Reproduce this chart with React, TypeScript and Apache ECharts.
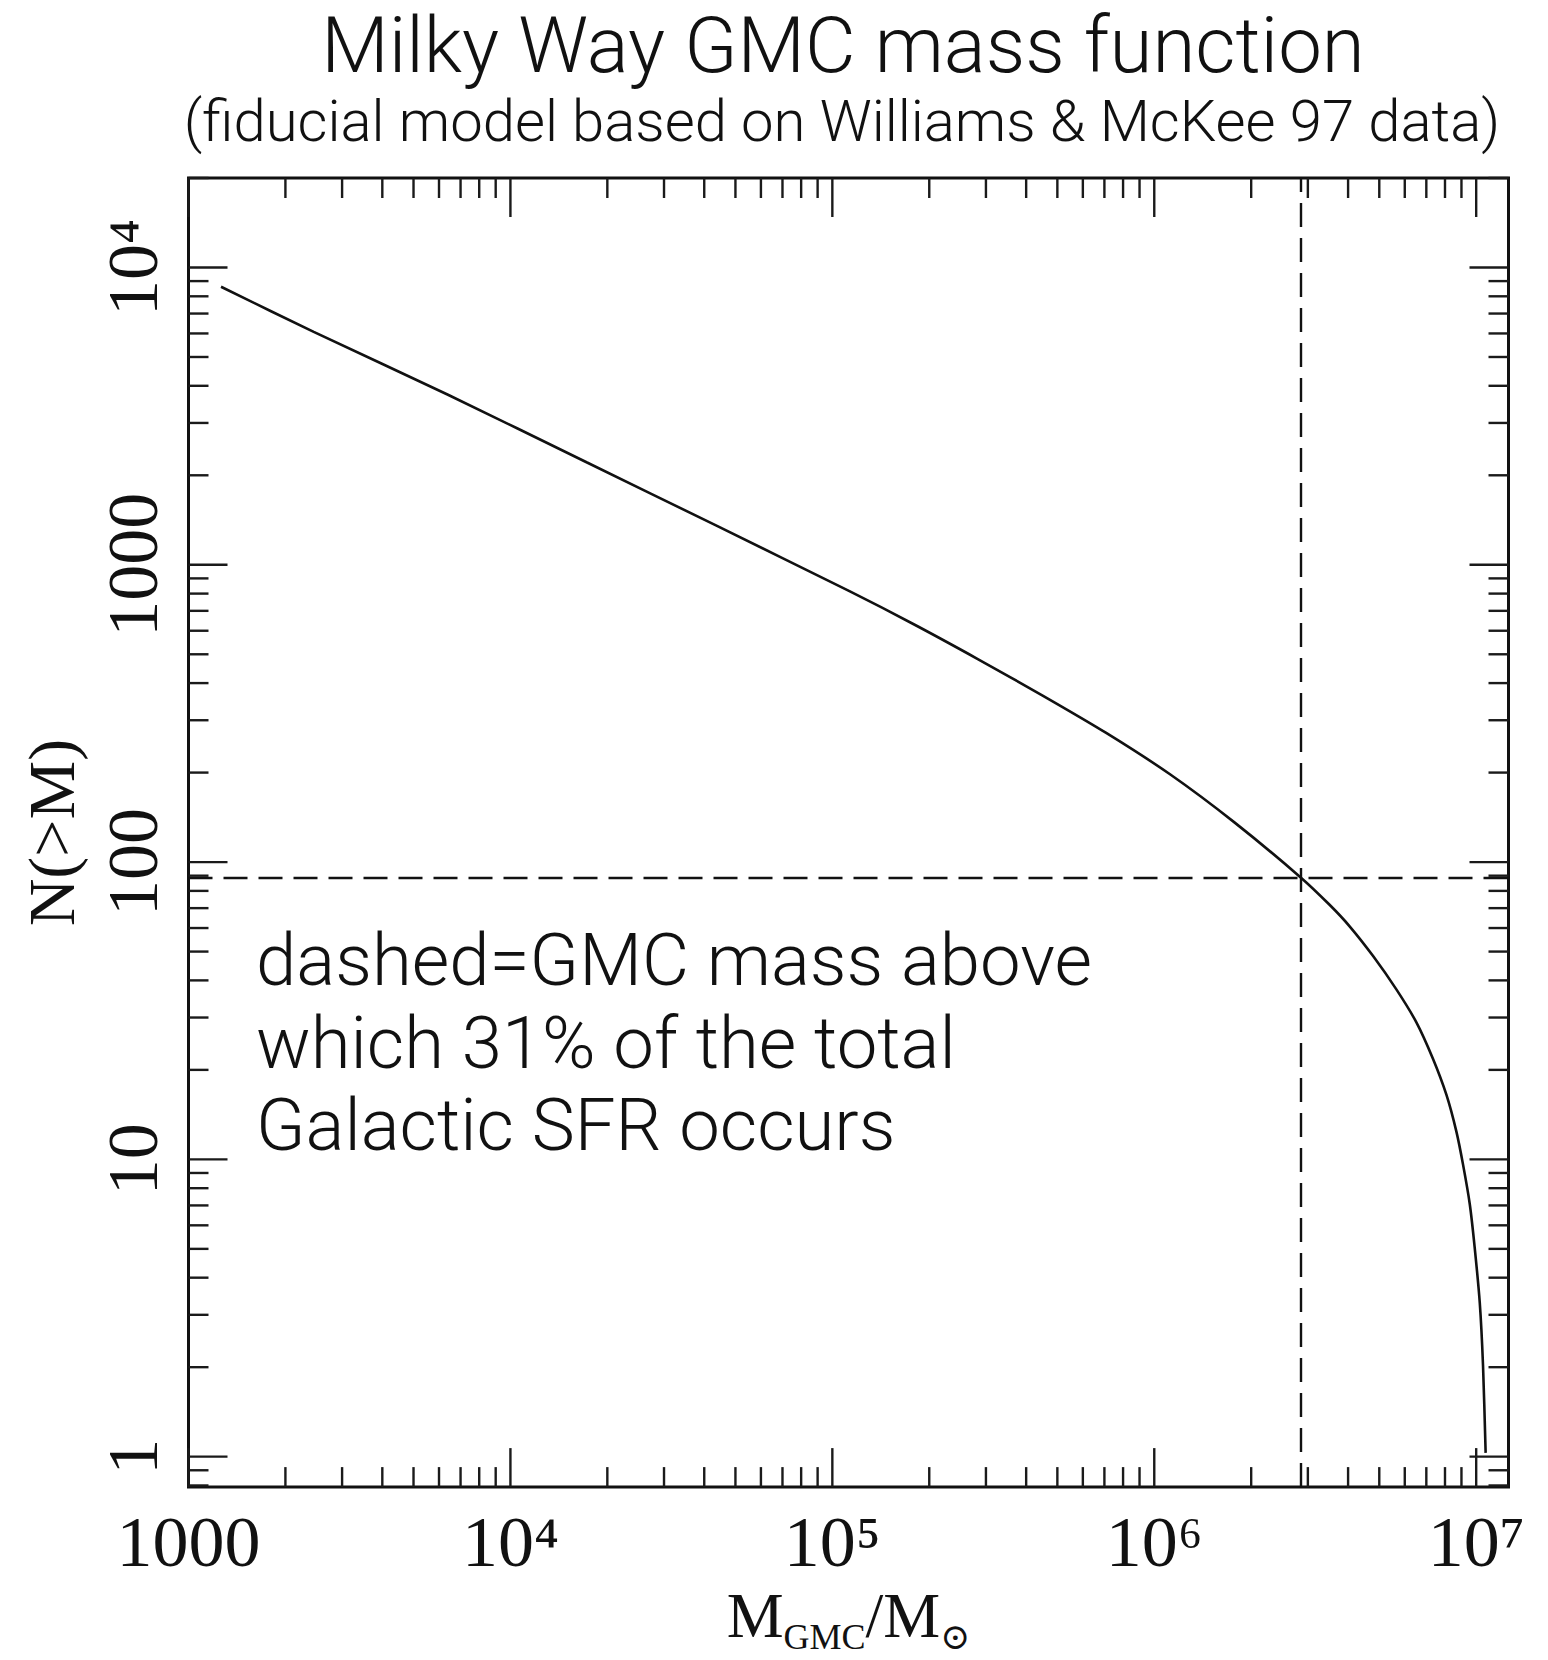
import React, { useEffect, useRef } from "react";
import * as echarts from "echarts";

// ---- data ----
const cloudMass = [
  1262, 2449, 6397, 17300, 43340, 113000, 179000, 283000, 448600, 709000,
  1122000, 1774000, 2850000, 3510000, 4050000, 4790000, 5650000, 6520000,
  7340000, 8080000, 8680000, 9100000, 9550000, 9890000, 10260000, 10500000,
  10700000,
];
const cumulativeCount = [
  8616, 6072, 3733, 2208, 1359, 815, 631, 482, 364, 272,
  197, 136, 88.8, 71.7, 60.7, 48.2, 37.3, 28.9,
  21.8, 16.5, 12.4, 9.62, 7.08, 5.07, 3.29, 2.03,
  1.03,
];

const dashedMass = 2.85e6;
const dashedCount = 88.8;

const xMin = 1000;
const xMax = 1.26e7;
const yMin = 0.79;
const yMax = 2e4;

const xTickValues = [1e3, 1e4, 1e5, 1e6, 1e7];
const xTickLabels = ["1000", "10\u2074", "10\u2075", "10\u2076", "10\u2077"];
const yTickValues = [1, 10, 100, 1000, 1e4];
const yTickLabels = ["1", "10", "100", "1000", "10\u2074"];

const minorMultipliers = [2, 3, 4, 5, 6, 7, 8, 9];
const xMinorDecades = [1e3, 1e4, 1e5, 1e6];
const yMinorDecades = [1, 10, 100, 1000];
const yExtraMinor = [0.8, 0.9, 2e4];

const annotationLines = [
  "dashed=GMC mass above",
  "which 31% of the total",
  "Galactic SFR occurs",
];

const titleText = "Milky Way GMC mass function";
const subtitleText = "(fiducial model based on Williams & McKee 97 data)";

const SERIF = "'Liberation Serif', 'DejaVu Serif', serif";
const SANS = "Roboto, 'Liberation Sans', sans-serif";
const INK = "#111";

function labelFor(values: number[], labels: string[]) {
  return (v: number) => {
    const i = values.findIndex(
      (t) => Math.abs(Math.log10(t) - Math.log10(v)) < 1e-6
    );
    return i >= 0 ? labels[i] : "";
  };
}

export default function App() {
  const ref = useRef<HTMLDivElement>(null);

  useEffect(() => {
    if (!ref.current) return;
    const chart = echarts.init(ref.current, undefined, { renderer: "svg" });

    const lineData = cloudMass.map((m, i) => [m, cumulativeCount[i]]);

    const xTickData: number[][] = [];
    xTickValues.forEach((v) => xTickData.push([v, 1, 1]));
    xMinorDecades.forEach((d) =>
      minorMultipliers.forEach((m) => xTickData.push([d * m, 1, 0]))
    );
    const yTickData: number[][] = [];
    yTickValues.forEach((v) => yTickData.push([xMin, v, 1]));
    yMinorDecades.forEach((d) =>
      minorMultipliers.forEach((m) => yTickData.push([xMin, d * m, 0]))
    );
    yExtraMinor.forEach((v) => yTickData.push([xMin, v, 0]));

    const MAJOR = 39;
    const MINOR = 20;
    const tickStyle = { stroke: "#1a1a1a", lineWidth: 2.4 };

    const option: any = {
      animation: false,
      backgroundColor: "#fff",
      title: [
        {
          text: titleText,
          left: 843,
          top: 6,
          textAlign: "center",
          padding: 0,
          textStyle: {
            fontFamily: SANS,
            fontWeight: 300,
            fontSize: 78,
            lineHeight: 78,
            color: INK,
          },
        },
        {
          text: subtitleText,
          left: 842,
          top: 92,
          textAlign: "center",
          padding: 0,
          textStyle: {
            fontFamily: SANS,
            fontWeight: 300,
            fontSize: 58,
            lineHeight: 58,
            color: INK,
          },
        },
      ],
      grid: {
        left: 188.5,
        right: 39.5,
        top: 178,
        bottom: 164,
        show: true,
        borderColor: INK,
        borderWidth: 3,
        backgroundColor: "transparent",
      },
      xAxis: {
        type: "log",
        logBase: 10,
        min: xMin,
        max: xMax,
        axisLine: { show: false },
        axisTick: { show: false },
        splitLine: { show: false },
        minorTick: { show: false },
        axisLabel: {
          customValues: xTickValues,
          formatter: labelFor(xTickValues, xTickLabels),
          fontFamily: SERIF,
          fontSize: 72,
          lineHeight: 72,
          color: INK,
          margin: 19,
          showMinLabel: true,
          showMaxLabel: true,
        },
        name: "{m|M}{s|GMC}{m|/M}{s|\u2299}",
        nameLocation: "middle",
        nameGap: 92,
        nameTextStyle: {
          fontFamily: SERIF,
          color: INK,
          rich: {
            m: {
              fontFamily: SERIF,
              fontSize: 64,
              lineHeight: 64,
              verticalAlign: "top",
              color: INK,
            },
            s: {
              fontFamily: SERIF,
              fontSize: 36,
              padding: [36, 0, 0, 0],
              verticalAlign: "bottom",
              color: INK,
            },
          },
        },
      },
      yAxis: {
        type: "log",
        logBase: 10,
        min: yMin,
        max: yMax,
        axisLine: { show: false },
        axisTick: { show: false },
        splitLine: { show: false },
        minorTick: { show: false },
        axisLabel: {
          customValues: yTickValues,
          formatter: labelFor(yTickValues, yTickLabels),
          fontFamily: SERIF,
          fontSize: 72,
          lineHeight: 72,
          color: INK,
          rotate: 90,
          margin: 20,
        },
        name: "N(>M)",
        nameLocation: "middle",
        nameRotate: 90,
        nameGap: 104,
        nameTextStyle: {
          fontFamily: SERIF,
          fontSize: 66,
          lineHeight: 66,
          color: INK,
        },
      },
      series: [
        {
          type: "line",
          data: lineData,
          showSymbol: false,
          smooth: 0.25,
          lineStyle: { color: INK, width: 2.6 },
          z: 3,
          markLine: {
            silent: true,
            symbol: ["none", "none"],
            label: { show: false },
            lineStyle: { color: INK, width: 2.4, type: [24, 11] },
            data: [{ xAxis: dashedMass }, { yAxis: dashedCount }],
          },
        },
        {
          type: "custom",
          clip: false,
          data: xTickData,
          encode: { x: 0, y: 1 },
          z: 4,
          renderItem: (params: any, api: any) => {
            const v = api.value(0);
            const major = api.value(2) === 1;
            const cs = params.coordSys;
            const px = api.coord([v, 1])[0];
            const len = major ? MAJOR : MINOR;
            const bottom = cs.y + cs.height;
            return {
              type: "group",
              children: [
                {
                  type: "line",
                  shape: { x1: px, y1: bottom, x2: px, y2: bottom - len },
                  style: tickStyle,
                },
                {
                  type: "line",
                  shape: { x1: px, y1: cs.y, x2: px, y2: cs.y + len },
                  style: tickStyle,
                },
              ],
            };
          },
        },
        {
          type: "custom",
          clip: false,
          data: yTickData,
          encode: { x: 0, y: 1 },
          z: 4,
          renderItem: (params: any, api: any) => {
            const v = api.value(1);
            const major = api.value(2) === 1;
            const cs = params.coordSys;
            const py = api.coord([xMin, v])[1];
            const len = major ? MAJOR : MINOR;
            const right = cs.x + cs.width;
            return {
              type: "group",
              children: [
                {
                  type: "line",
                  shape: { x1: cs.x, y1: py, x2: cs.x + len, y2: py },
                  style: tickStyle,
                },
                {
                  type: "line",
                  shape: { x1: right, y1: py, x2: right - len, y2: py },
                  style: tickStyle,
                },
              ],
            };
          },
        },
      ],
      graphic: [
        {
          type: "text",
          left: 256,
          top: 919,
          style: {
            text: annotationLines.join("\n"),
            fontFamily: SANS,
            fontWeight: 300,
            fontSize: 72.5,
            lineHeight: 82.7,
            fill: INK,
          },
        },
      ],
    };

    chart.setOption(option);
    return () => chart.dispose();
  }, []);

  return (
    <div
      ref={ref}
      style={{
        position: "absolute",
        left: 0,
        top: 0,
        width: 1548,
        height: 1660,
        background: "#fff",
      }}
    />
  );
}
